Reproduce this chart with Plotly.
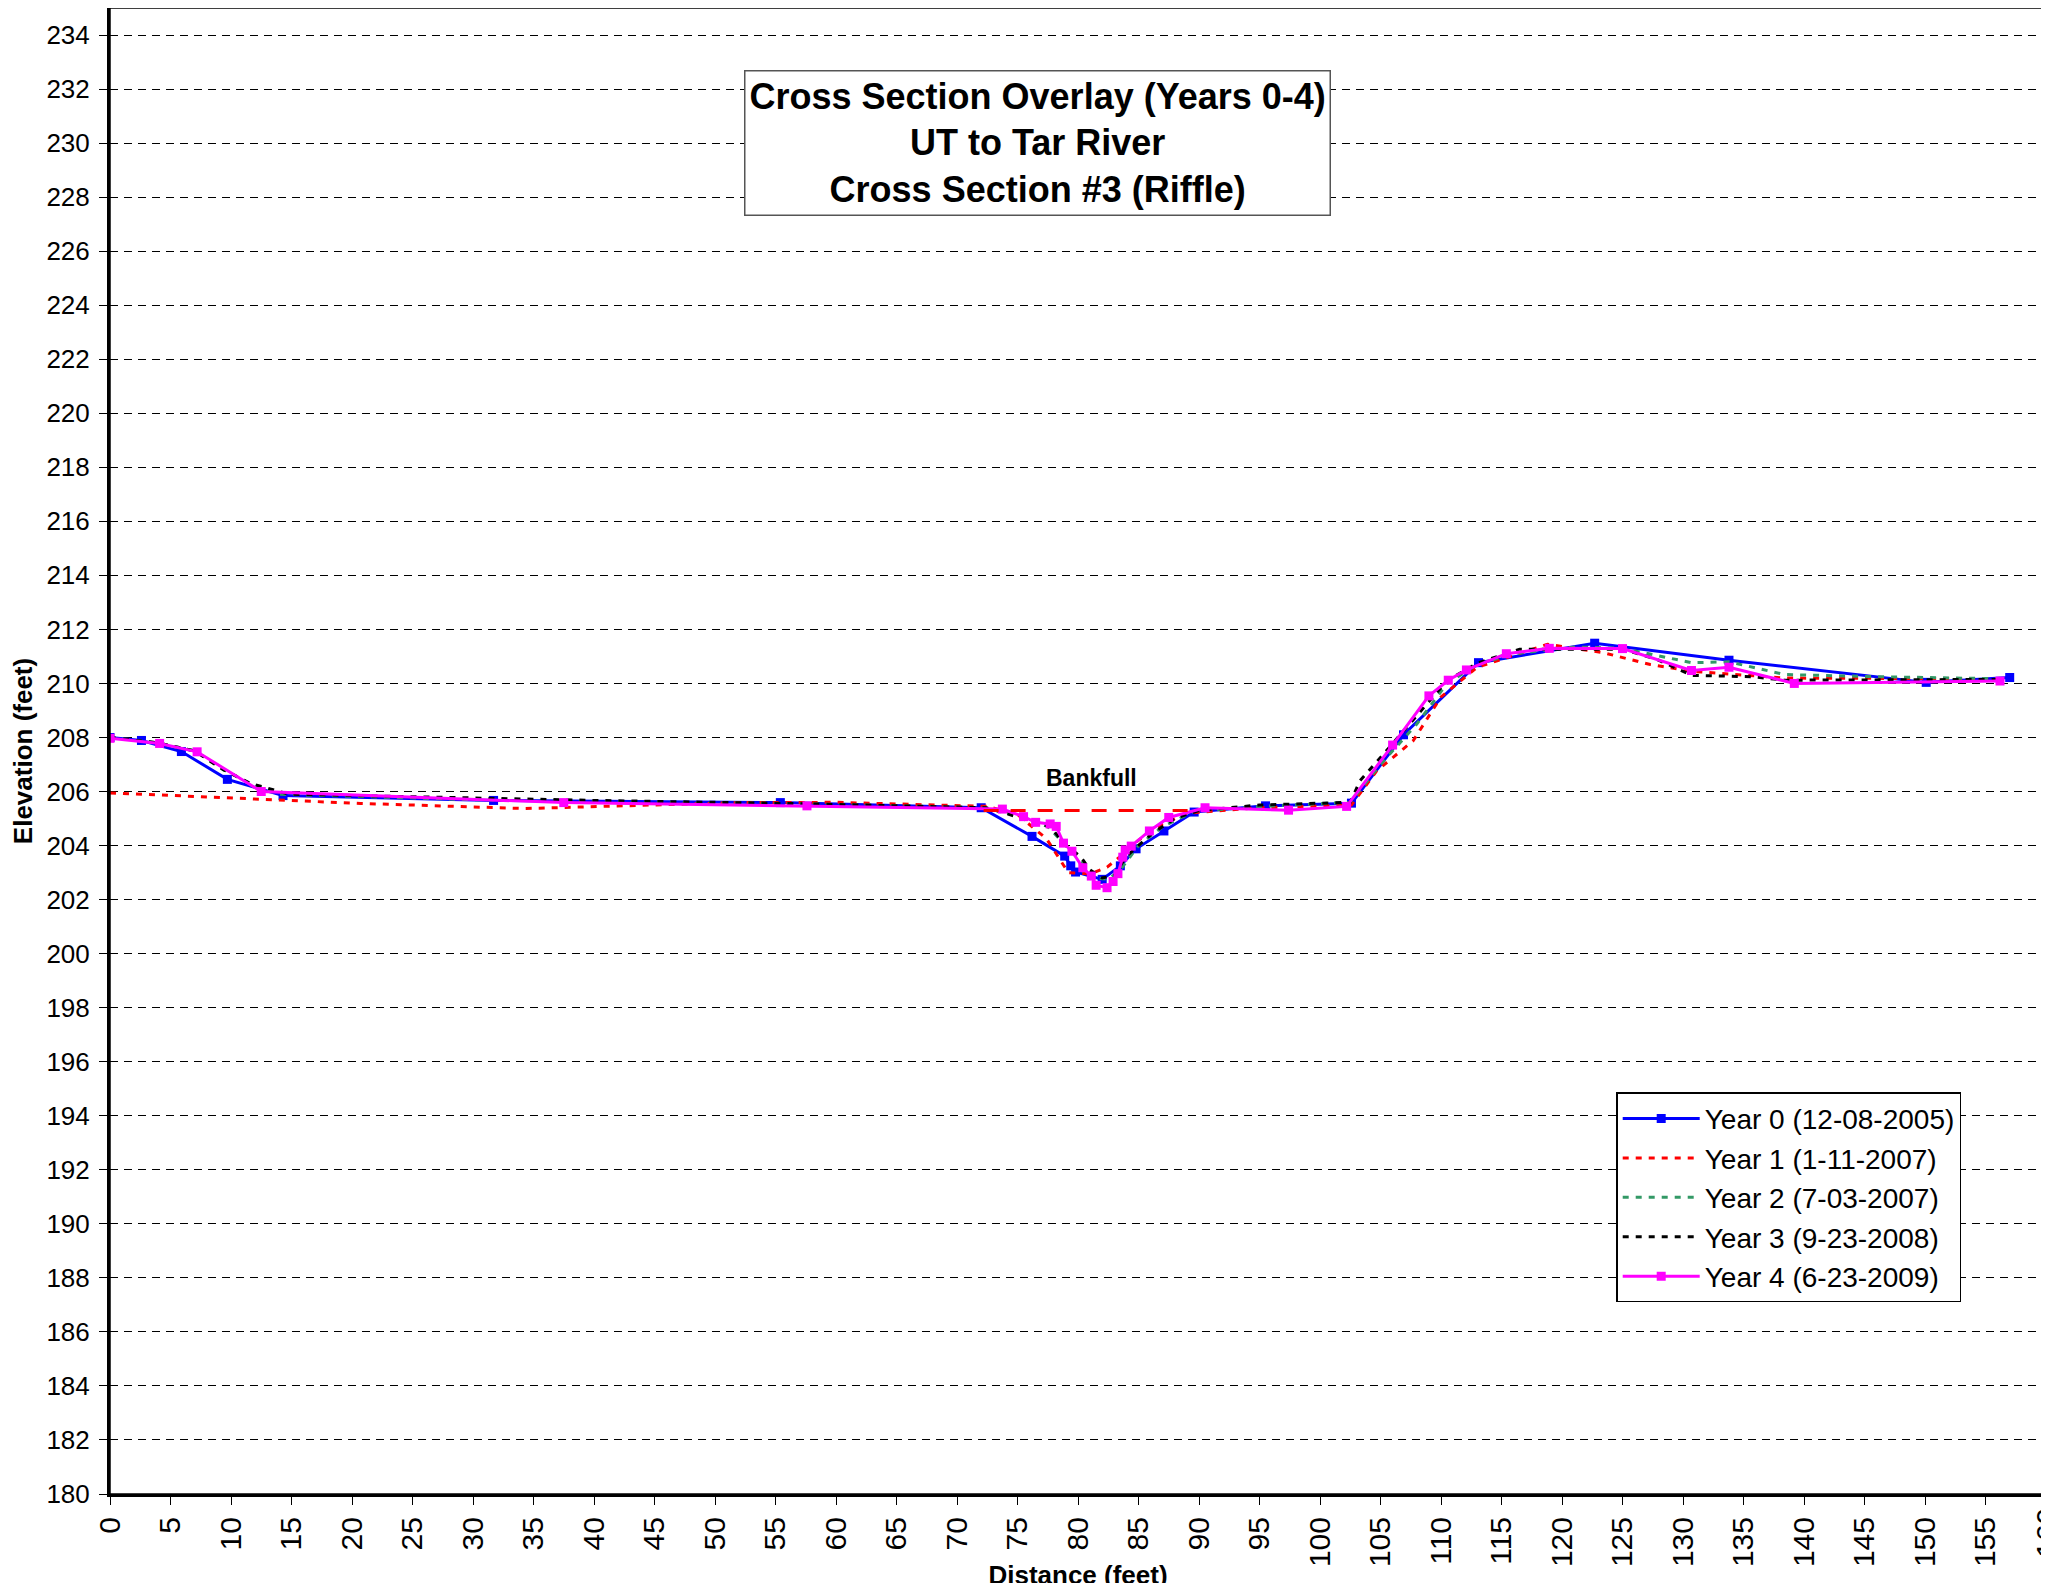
import plotly.graph_objects as go

FONT = "Liberation Sans, Arial, sans-serif"

# cross section survey data (distance ft, elevation ft)
year0_x = [0, 2.6, 5.9, 9.7, 14.3, 31.7, 55.4, 72.0, 76.2, 78.9, 79.4, 79.8, 82.0, 83.5,
           84.8, 87.1, 89.6, 95.5, 102.6, 106.9, 113.1, 122.7, 133.8, 150.1, 157.0]
year0_y = [208.0, 207.89, 207.48, 206.45, 205.85, 205.67, 205.59, 205.4, 204.34, 203.61,
           203.25, 203.02, 202.75, 203.25, 203.88, 204.54, 205.24, 205.47, 205.57, 208.1,
           210.77, 211.49, 210.86, 210.04, 210.22]

year1_x = [0, 10, 20.7, 34.3, 41.9, 52, 60, 72.5, 75, 77.4, 79.2, 81, 82.4, 83.5, 85, 87,
           89, 95, 102.6, 104.7, 107.7, 110, 113, 118.8, 123.4, 127.3, 130.7, 138.4, 156.5]
year1_y = [205.95, 205.75, 205.56, 205.37, 205.47, 205.59, 205.6, 205.45, 205.15, 204.25,
           203.0, 202.95, 203.2, 203.6, 204.2, 204.8, 205.2, 205.4, 205.5, 206.77, 207.88,
           209.5, 210.6, 211.45, 211.14, 210.7, 210.45, 210.2, 210.17]

year2_x = [0, 4, 7, 9.4, 11.6, 14, 30, 45, 57, 72.4, 75, 77.5, 79, 80.5, 81.5, 82.5, 83.5,
           85, 87, 89.5, 95, 102.5, 105, 108, 110.5, 113, 116, 121.1, 125, 130.7, 133.8,
           138.4, 146.1, 156.5]
year2_y = [208.0, 207.8, 207.5, 206.8, 206.3, 205.9, 205.7, 205.6, 205.55, 205.4, 205.1,
           204.7, 204.0, 203.3, 202.8, 202.75, 203.1, 204.0, 204.7, 205.25, 205.45, 205.6,
           207.0, 208.5, 210.0, 210.7, 211.1, 211.35, 211.3, 210.77, 210.8, 210.33, 210.25,
           210.17]

year3_x = [0, 4, 7, 9.4, 11.6, 14.8, 40.1, 57, 72.4, 74, 76, 77.7, 79, 80.2, 81, 82, 83, 84,
           86, 88, 90, 95, 102.5, 103.3, 105, 108, 110.5, 113, 116.5, 125, 127.8, 130.7,
           135.7, 138.4, 156.5]
year3_y = [208.0, 207.8, 207.5, 206.8, 206.3, 205.9, 205.67, 205.55, 205.4, 205.2, 204.9,
           204.7, 204.0, 203.6, 203.1, 202.8, 202.9, 203.6, 204.4, 205.0, 205.3, 205.5,
           205.6, 206.4, 207.26, 208.8, 210.1, 210.75, 211.27, 211.27, 210.9, 210.3, 210.25,
           210.12, 210.15]

year4_x = [0, 4.1, 7.2, 12.5, 37.5, 57.6, 73.75, 75.5, 76.5, 77.7, 78.2, 78.8, 79.5, 80.4,
           81.1, 81.5, 82.4, 82.9, 83.3, 83.7, 83.9, 84.4, 85.9, 87.5, 90.5, 97.4, 102.2,
           106.0, 109.0, 110.6, 112.1, 115.4, 118.95, 125.0, 130.7, 133.8, 139.2, 156.2]
year4_y = [207.97, 207.78, 207.47, 206.0, 205.59, 205.47, 205.35, 205.07, 204.86, 204.8,
           204.71, 204.09, 203.79, 203.18, 202.87, 202.53, 202.44, 202.67, 202.96, 203.57,
           203.84, 203.98, 204.54, 205.04, 205.4, 205.31, 205.45, 207.72, 209.54, 210.12,
           210.5, 211.1, 211.3, 211.29, 210.48, 210.6, 210.0, 210.09]

bankfull_x = [72.2, 89.6]
bankfull_y = [205.3, 205.3]

x_max = 160

series = [
    ("Year 0 (12-08-2005)", year0_x, year0_y, "#0000FF", "solid", True),
    ("Year 1 (1-11-2007)", year1_x, year1_y, "#FF0000", "6px,7px", False),
    ("Year 2 (7-03-2007)", year2_x, year2_y, "#339966", "6px,7px", False),
    ("Year 3 (9-23-2008)", year3_x, year3_y, "#000000", "6px,7px", False),
    ("Year 4 (6-23-2009)", year4_x, year4_y, "#FF00FF", "solid", True),
]

fig = go.Figure()
for name, xs, ys, color, dash, markers in series:
    fig.add_trace(
        go.Scatter(
            x=xs,
            y=ys,
            name=name,
            mode="lines+markers" if markers else "lines",
            line=dict(color=color, width=3, dash=dash),
            marker=dict(symbol="square", size=9, color=color),
        )
    )

fig.add_trace(
    go.Scatter(
        x=bankfull_x,
        y=bankfull_y,
        mode="lines",
        line=dict(color="#FF0000", width=3, dash="15px,12px"),
        showlegend=False,
    )
)

fig.add_annotation(
    x=81.1, y=206.5, text="<b>Bankfull</b>", showarrow=False,
    font=dict(family=FONT, size=23, color="black"),
)

fig.add_annotation(
    xref="paper", yref="paper", x=0.479, y=0.909, xanchor="center", yanchor="middle",
    text="<b>Cross Section Overlay (Years 0-4)<br>UT to Tar River<br>Cross Section #3 (Riffle)</b>",
    showarrow=False, align="center",
    font=dict(family=FONT, size=36, color="black"),
    bgcolor="white", bordercolor="#555555", borderwidth=1.5, borderpad=4,
)

# plotly drops the last tick label at the figure edge, so add it by hand
fig.add_annotation(
    x=x_max, xref="x", y=0, yref="paper", xanchor="center", yanchor="top",
    yshift=-12, text=str(x_max), textangle=-90, showarrow=False,
    font=dict(family=FONT, size=30, color="black"),
)

# thin plot frame
fig.add_shape(
    type="rect", xref="paper", yref="paper", x0=0, y0=0, x1=1, y1=1,
    line=dict(color="black", width=1.5), layer="above",
)

# the page body adds an 8px offset, margins compensate for it
fig.update_layout(
    width=2049,
    height=1583,
    margin=dict(l=102, r=11, t=0, b=97),
    paper_bgcolor="white",
    plot_bgcolor="white",
    font=dict(family=FONT, color="black"),
    legend=dict(
        x=0.778, y=0.2703, xanchor="left", yanchor="top",
        bgcolor="white", bordercolor="black", borderwidth=1.5,
        font=dict(family=FONT, size=28, color="black"),
        itemwidth=77, tracegroupgap=0,
    ),
    xaxis=dict(
        range=[0, x_max], dtick=5, tick0=0, tickangle=-90,
        showgrid=False, zeroline=False,
        showline=True, linecolor="black", linewidth=3,
        ticks="outside", ticklen=8, tickcolor="black",
        tickfont=dict(family=FONT, size=30, color="black"),
        title=dict(text="<b>Distance (feet)</b>", font=dict(family=FONT, size=26), standoff=0),
        automargin=False,
    ),
    yaxis=dict(
        range=[180, 235], dtick=2, tick0=180,
        showgrid=True, gridcolor="black", gridwidth=1, griddash="8px,6px",
        zeroline=False,
        showline=True, linecolor="black", linewidth=3,
        ticks="outside", ticklen=8, tickcolor="black", ticklabelstandoff=4,
        tickfont=dict(family=FONT, size=26, color="black"),
        title=dict(text="<b>Elevation (feet)</b>", font=dict(family=FONT, size=26), standoff=18),
        automargin=False,
    ),
)

fig.write_html("out.html")
